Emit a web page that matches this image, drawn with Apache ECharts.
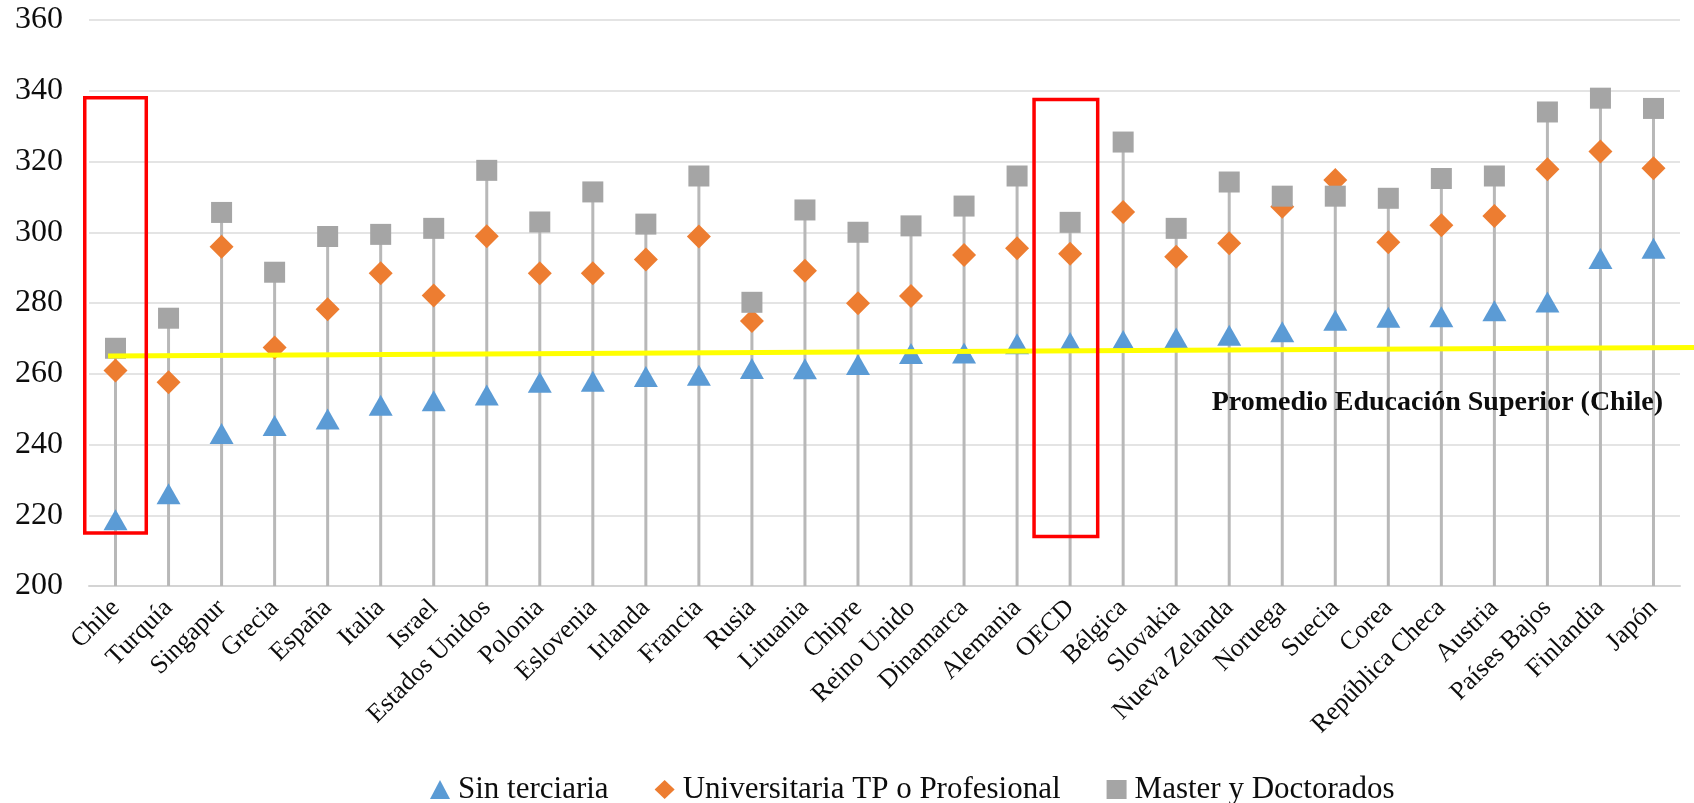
<!DOCTYPE html>
<html>
<head>
<meta charset="utf-8">
<title>Puntajes por nivel educativo</title>
<script src="https://cdn.jsdelivr.net/npm/echarts@6/dist/echarts.min.js"></script>
<style>
  html, body { margin: 0; padding: 0; background: #ffffff; }
  #chart { width: 1694px; height: 803px; }
</style>
</head>
<body>
<div id="chart"></div>
<script>
// Countries, ordered by the score of adults without tertiary education
const categories = [
  'Chile', 'Turquía', 'Singapur', 'Grecia', 'España', 'Italia', 'Israel',
  'Estados Unidos', 'Polonia', 'Eslovenia', 'Irlanda', 'Francia', 'Rusia',
  'Lituania', 'Chipre', 'Reino Unido', 'Dinamarca', 'Alemania', 'OECD',
  'Bélgica', 'Slovakia', 'Nueva Zelanda', 'Noruega', 'Suecia', 'Corea',
  'República Checa', 'Austria', 'Países Bajos', 'Finlandia', 'Japón'
];

const sinTerciaria = [
  218.7, 226.1, 243.1, 245.4, 247.2, 251.1, 252.4, 254.0, 257.6, 257.9,
  259.2, 259.6, 261.5, 261.4, 262.6, 265.7, 265.9, 268.5, 268.8, 269.4,
  270.1, 270.9, 271.9, 275.1, 276.0, 276.1, 277.8, 280.3, 292.6, 295.5
];

const universitaria = [
  260.9, 257.6, 295.9, 267.4, 278.2, 288.4, 282.1, 298.9, 288.4, 288.4,
  292.3, 298.8, 274.9, 289.1, 279.9, 282.0, 293.6, 295.5, 293.9, 305.7,
  293.1, 296.9, 307.2, 314.8, 297.2, 302.0, 304.6, 317.8, 322.8, 318.1
];

const master = [
  267.2, 275.7, 305.6, 288.7, 298.8, 299.4, 301.1, 317.5, 302.9, 311.4,
  302.3, 315.9, 280.2, 306.3, 300.0, 301.8, 307.4, 315.9, 302.8, 325.5,
  301.1, 314.2, 310.2, 310.2, 309.6, 315.2, 315.9, 334.0, 337.9, 335.0
];

// Value axis ticks
const yTickLabels = [200, 220, 240, 260, 280, 300, 320, 340, 360];

// Chilean higher-education average (reference line, left and right ends)
const promedioChile = [265.0, 267.4];
const promedioLabel = 'Promedio Educación Superior (Chile)';

// Categories framed in red
const highlighted = ['Chile', 'OECD'];

const seriesNames = ['Sin terciaria', 'Universitaria TP o Profesional', 'Master y Doctorados'];

// Drop line top for each country: the highest of its three scores
const stemTop = categories.map((_, i) => Math.max(sinTerciaria[i], universitaria[i], master[i]));

const FONT = '"Liberation Serif", "Times New Roman", serif';
const BLUE = '#5b9bd5';
const ORANGE = '#ed7d31';
const GRAY = '#a5a5a5';

const chart = echarts.init(document.getElementById('chart'), null, {
  renderer: 'canvas', width: 1694, height: 803
});

const option = {
  animation: false,
  backgroundColor: '#ffffff',
  grid: { left: 89, right: 14, top: 20, bottom: 217, containLabel: false },
  xAxis: {
    type: 'category',
    data: categories,
    boundaryGap: true,
    axisLine: { show: true, lineStyle: { color: '#d4d4d4', width: 2 } },
    axisTick: { show: false },
    splitLine: { show: false },
    axisLabel: {
      interval: 0,
      rotate: 45,
      margin: 18,
      fontFamily: FONT,
      fontSize: 26,
      color: '#0d0d0d'
    }
  },
  yAxis: {
    type: 'value',
    min: yTickLabels[0],
    max: yTickLabels[yTickLabels.length - 1],
    interval: yTickLabels[1] - yTickLabels[0],
    axisLine: { show: false },
    axisTick: { show: false },
    splitLine: { show: true, lineStyle: { color: '#e4e4e4', width: 2 } },
    axisLabel: {
      margin: 26,
      fontFamily: FONT,
      fontSize: 32,
      color: '#0d0d0d',
      formatter: v => String(v)
    }
  },
  legend: {
    data: [
      { name: seriesNames[0], icon: 'triangle' },
      { name: seriesNames[1], icon: 'diamond' },
      { name: seriesNames[2], icon: 'rect' }
    ],
    left: 425,
    top: 769,
    itemWidth: 20,
    itemHeight: 19,
    itemGap: 46,
    textStyle: {
      fontFamily: FONT,
      fontSize: 31,
      color: '#0d0d0d',
      padding: [0, 0, 0, 3]
    }
  },
  series: [
    {
      name: 'stems',
      type: 'bar',
      data: stemTop,
      barWidth: 3,
      itemStyle: { color: '#b8b8b8' },
      silent: true,
      z: 1
    },
    {
      name: seriesNames[0],
      type: 'scatter',
      data: sinTerciaria,
      symbol: 'triangle',
      symbolSize: [24, 21],
      itemStyle: { color: BLUE, opacity: 1 },
      z: 2
    },
    {
      name: seriesNames[1],
      type: 'scatter',
      data: universitaria,
      symbol: 'diamond',
      symbolSize: [24, 24],
      itemStyle: { color: ORANGE, opacity: 1 },
      z: 3
    },
    {
      name: seriesNames[2],
      type: 'scatter',
      data: master,
      symbol: 'rect',
      symbolSize: [21, 21],
      itemStyle: { color: GRAY, opacity: 1 },
      z: 4
    }
  ]
};

chart.setOption(option);

// Overlays placed through the chart's own scales
const toPx = (i, v) => chart.convertToPixel({ gridIndex: 0 }, [i, v]);
const band = toPx(1, 300)[0] - toPx(0, 300)[0];

// Red frames: extent in bands left/right of the category centre and value range
const frameSpec = {
  'Chile': { l: 0.58, r: 0.58, top: 338.0, bottom: 215.0 },
  'OECD':  { l: 0.68, r: 0.52, top: 337.5, bottom: 214.0 }
};

const graphics = [];

// Reference line, from just left of Chile to the right edge of the canvas
const lineStart = toPx(0, promedioChile[0]);
const lineEndY = toPx(0, promedioChile[1])[1];
graphics.push({
  type: 'line',
  z: 50,
  shape: { x1: lineStart[0] - 0.14 * band, y1: lineStart[1], x2: chart.getWidth(), y2: lineEndY },
  style: { stroke: '#ffff00', lineWidth: 5 },
  silent: true
});

// Label under the reference line
graphics.push({
  type: 'text',
  z: 51,
  x: 1663,
  y: 403,
  style: {
    text: promedioLabel,
    fontFamily: FONT,
    fontWeight: 'bold',
    fontSize: 28,
    fill: '#0d0d0d',
    align: 'right',
    verticalAlign: 'middle'
  },
  silent: true
});

highlighted.forEach(name => {
  const i = categories.indexOf(name);
  const s = frameSpec[name];
  const top = toPx(i, s.top);
  const bottom = toPx(i, s.bottom);
  const x0 = top[0] - s.l * band;
  const x1 = top[0] + s.r * band;
  graphics.push({
    type: 'rect',
    z: 60,
    shape: { x: x0, y: top[1], width: x1 - x0, height: bottom[1] - top[1] },
    style: { fill: 'none', stroke: '#ff0000', lineWidth: 3.5 },
    silent: true
  });
});

chart.setOption({ graphic: graphics });
</script>
</body>
</html>
